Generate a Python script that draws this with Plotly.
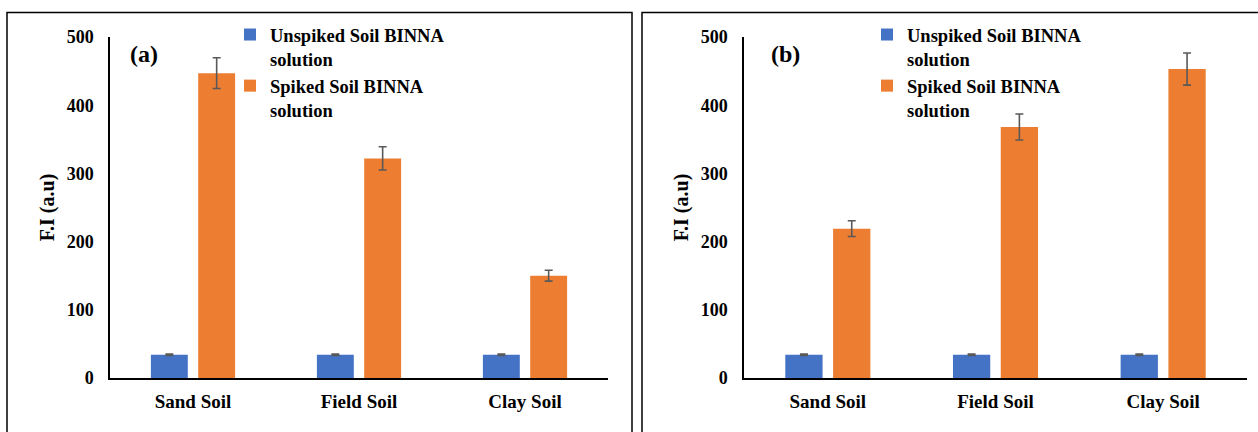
import plotly.graph_objects as go

W, H = 1258, 432

categories = ["Sand Soil", "Field Soil", "Clay Soil"]
series_names = ["Unspiked Soil BINNA<br>solution", "Spiked Soil BINNA<br>solution"]

# Panel (a)
a_unspiked = [34, 34, 34]
a_unspiked_err = [1, 1, 1]
a_spiked = [447, 322, 150]
a_spiked_err = [22.5, 17, 8]

# Panel (b)
b_unspiked = [34, 34, 34]
b_unspiked_err = [1, 1, 1]
b_spiked = [219, 368, 453]
b_spiked_err = [11.5, 19, 23.5]

y_ticks = [0, 100, 200, 300, 400, 500]

BLUE = "#4472C4"
ORANGE = "#ED7D31"
ERR = "#595959"
FONT = "Liberation Serif, Tinos, Times New Roman, DejaVu Serif, serif"


def px_x(p):
    return p / W


def px_y(p):
    return 1 - p / H


def bold(size):
    return dict(family=FONT, size=size, color="black", weight="bold")


fig = go.Figure()


def add_pair(xa, ya, leg, unsp, unsp_err, sp, sp_err):
    for name, vals, errs, col in [
        (series_names[0], unsp, unsp_err, BLUE),
        (series_names[1], sp, sp_err, ORANGE),
    ]:
        fig.add_trace(go.Bar(
            x=categories, y=vals, name=name,
            marker=dict(color=col, line=dict(width=0)),
            error_y=dict(type="data", array=errs, visible=True,
                         color=ERR, thickness=1.6, width=4),
            xaxis=xa, yaxis=ya, legend=leg,
        ))


add_pair("x", "y", "legend", a_unspiked, a_unspiked_err, a_spiked, a_spiked_err)
add_pair("x2", "y2", "legend2", b_unspiked, b_unspiked_err, b_spiked, b_spiked_err)

ydom = [px_y(378), px_y(37)]

xcommon = dict(showline=True, linecolor="black", linewidth=1.5, showgrid=False,
               zeroline=False, ticks="", ticklabelstandoff=5, automargin=False,
               tickfont=bold(19))
ycommon = dict(showline=True, linecolor="black", linewidth=1.5, showgrid=False,
               zeroline=False, ticks="", range=[0, 500], tickvals=y_ticks,
               ticklabelstandoff=11, automargin=False,
               tickfont=bold(18),
               title=dict(text="F.I (a.u)", standoff=7, font=bold(20)))

legcommon = dict(font=bold(18.5), valign="top", bgcolor="rgba(0,0,0,0)",
                 borderwidth=0, xanchor="left", yanchor="top",
                 traceorder="normal")

fig.update_layout(
    width=W, height=H,
    margin=dict(l=0, r=0, t=0, b=0, pad=0, autoexpand=False),
    paper_bgcolor="white", plot_bgcolor="white",
    barmode="group", bargap=0.43, bargroupgap=0.22,
    font=dict(family=FONT, color="black"),
    xaxis=dict(domain=[px_x(110), px_x(608)], anchor="y", **xcommon),
    yaxis=dict(domain=ydom, anchor="x", **ycommon),
    xaxis2=dict(domain=[px_x(744), px_x(1247)], anchor="y2", **xcommon),
    yaxis2=dict(domain=ydom, anchor="x2", **ycommon),
    legend=dict(x=px_x(230), y=px_y(16), **legcommon),
    legend2=dict(x=px_x(867), y=px_y(16), **legcommon),
    shapes=[
        dict(type="rect", xref="paper", yref="paper",
             x0=px_x(7), x1=px_x(632), y0=-0.05, y1=px_y(12.5),
             line=dict(color="black", width=1.5), fillcolor="rgba(0,0,0,0)"),
        dict(type="rect", xref="paper", yref="paper",
             x0=px_x(642), x1=1.05, y0=-0.05, y1=px_y(12.5),
             line=dict(color="black", width=1.5), fillcolor="rgba(0,0,0,0)"),
    ],
    annotations=[
        dict(text="(a)", xref="paper", yref="paper", x=px_x(144), y=px_y(54),
             showarrow=False, xanchor="center", yanchor="middle", font=bold(24)),
        dict(text="(b)", xref="paper", yref="paper", x=px_x(785), y=px_y(54),
             showarrow=False, xanchor="center", yanchor="middle", font=bold(24)),
    ],
)

fig.write_html("out.html")
